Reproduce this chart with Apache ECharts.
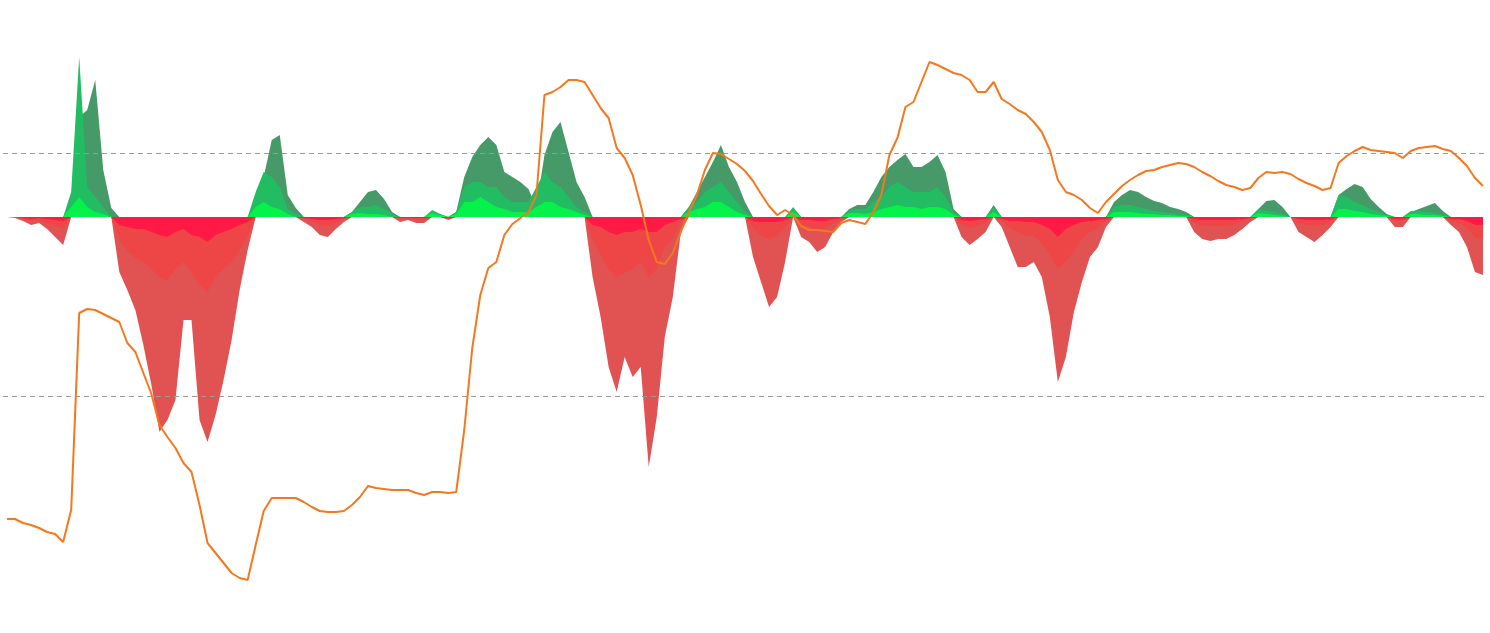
<!DOCTYPE html>
<html>
<head>
<meta charset="utf-8">
<script src="https://cdn.jsdelivr.net/npm/echarts@6/dist/echarts.min.js"></script>
<style>
html,body{margin:0;padding:0;background:#fff;}
#chart{width:1490px;height:633px;}
</style>
</head>
<body>
<div id="chart"></div>
<script>
// Oscillator, long window (outer layer)
const oscLong = [0,-1,-4,-8,-6,-12,-20,-28,15,100,107,137,47,9,-55,-73,-93,-128,-168,-215,-203,-183,-103,-103,-203,-225,-198,-163,-123,-73,-33,10,40,77,82,22,9,-5,-10,-18,-20,-12,-5,5,15,25,27,18,5,-5,-3,-6,-6,4,3,-3,5,40,60,72,80,72,45,40,35,28,10,62,85,95,65,35,20,-60,-100,-150,-175,-140,-160,-150,-250,-200,-120,-80,-15,10,25,40,55,72,50,35,15,-40,-65,-90,-80,-45,8,-20,-25,-35,-30,-15,-5,8,12,12,25,40,50,57,63,50,50,55,62,45,8,-20,-28,-22,-15,12,-10,-30,-50,-50,-45,-60,-100,-165,-140,-95,-65,-40,-30,-10,15,22,27,25,20,16,14,10,8,5,-15,-22,-24,-22,-22,-18,-12,-5,8,16,17,10,0,-15,-20,-25,-18,-10,22,28,33,30,18,10,3,-10,-10,5,8,11,14,6,-8,-15,-30,-55,-58];
// Oscillator, medium window (middle layer)
const oscMid = [0,0,-2,-4,-3,-6,-9,-11,25,160,30,20,10,0,-22,-34,-41,-45,-52,-60,-64,-52,-45,-56,-68,-75,-60,-52,-45,-34,-19,25,45,40,30,8,3,-2,-4,-8,-9,-6,-2,5,10,10,12,8,3,-2,-2,-3,-3,7,3,-2,5,30,35,35,30,30,20,15,15,15,30,45,35,30,20,10,5,-22,-38,-52,-60,-56,-52,-45,-60,-52,-30,-22,-4,10,15,25,30,35,25,15,5,-11,-19,-22,-19,-11,10,-8,-9,-14,-11,-6,-2,6,8,8,15,20,30,35,30,25,25,25,30,20,5,-8,-11,-9,-6,10,-4,-11,-15,-19,-19,-26,-38,-52,-45,-34,-22,-15,-11,-4,10,12,12,10,8,6,5,4,3,2,-6,-9,-9,-9,-9,-8,-4,-2,8,6,5,3,0,-6,-8,-9,-8,-4,22,20,15,12,8,5,2,-4,-4,6,6,5,4,2,-4,-6,-11,-21,-22];
// Oscillator, short window (inner layer)
const oscShort = [0,0,-1,-2,-1,-2,-3,-4,10,20,10,5,3,0,-8,-10,-12,-12,-15,-18,-20,-15,-12,-18,-20,-25,-18,-15,-12,-8,-5,10,15,10,8,3,0,-1,-2,-3,-3,-2,-1,3,4,3,3,2,0,-1,-1,-1,-1,4,2,-1,3,15,15,20,15,10,8,5,5,5,10,15,15,10,8,5,2,-8,-10,-15,-18,-15,-15,-12,-15,-15,-8,-5,-2,5,8,10,15,15,10,5,2,-4,-5,-5,-5,-3,5,-3,-3,-4,-4,-2,-1,4,4,3,5,8,10,12,10,10,8,10,10,8,2,-3,-4,-3,-2,5,-2,-4,-4,-5,-5,-8,-12,-20,-12,-8,-5,-4,-3,-2,5,5,5,4,3,3,2,2,1,1,-2,-3,-3,-3,-3,-3,-2,-1,4,3,2,1,0,-2,-3,-3,-3,-2,8,8,6,5,3,2,1,-2,-2,3,3,2,2,1,-2,-2,-4,-8,-8];
// Price (right axis, index units)
const price = [114,114,110,108,105,101,99,91,123,320,324,323,319,315,311,290,281,260,239,208,196,185,170,161,128,90,80,70,60,55,53,88,122,135,135,135,135,131,126,122,121,121,122,128,136,147,145,144,143,143,143,140,138,141,141,140,141,203,285,338,365,371,398,409,415,421,438,538,541,546,553,553,551,538,525,515,485,475,458,428,393,371,369,380,401,421,438,463,480,479,474,469,462,452,439,427,418,423,418,407,403,403,402,401,410,413,411,409,421,438,478,495,526,531,551,571,568,564,560,558,553,541,541,551,534,529,523,519,511,501,483,453,441,438,433,425,420,431,439,447,453,458,462,463,466,468,470,469,466,461,457,452,448,446,443,445,455,461,460,461,459,454,450,447,443,445,470,477,482,486,483,482,481,480,475,482,485,486,487,484,482,475,467,455,447];
// Reference levels on the price axis
const refLevels = [480, 237];

const periods = price.map((_, i) => 'P' + (i + 1));
const pos = a => a.map(v => (v > 0 ? v : 0));
const neg = a => a.map(v => (v < 0 ? v : 0));

function area(name, data, color) {
  return {
    name, type: 'line', data, yAxisIndex: 0,
    showSymbol: false, symbol: 'none', smooth: false,
    lineStyle: { width: 0 },
    areaStyle: { color: color, opacity: 1 },
    itemStyle: { color: color },
    silent: true
  };
}

const chart = echarts.init(document.getElementById('chart'));
chart.setOption({
  animation: false,
  backgroundColor: '#ffffff',
  grid: { left: 3, right: 3, top: 0, bottom: 0 },
  xAxis: { type: 'category', data: periods, boundaryGap: true, show: false },
  yAxis: [
    { type: 'value', min: -416, max: 217, show: false },
    { type: 'value', min: 0, max: 633, show: false }
  ],
  series: [
    area('long+', pos(oscLong), '#459a68'),
    area('long-', neg(oscLong), '#e15353'),
    area('mid+', pos(oscMid), '#22bd62'),
    area('mid-', neg(oscMid), '#ee4646'),
    area('short+', pos(oscShort), '#05f24a'),
    area('short-', neg(oscShort), '#ff1a45'),
    {
      name: 'Price', type: 'line', data: price, yAxisIndex: 1,
      showSymbol: false, symbol: 'none',
      lineStyle: { color: '#f5781f', width: 2 },
      itemStyle: { color: '#f5781f' },
      z: 5,
      markLine: {
        silent: true, symbol: ['none', 'none'],
        label: { show: false },
        lineStyle: { color: '#9a9a9a', width: 1, type: [5, 4] },
        data: refLevels.map(v => ({ yAxis: v }))
      }
    }
  ]
});
</script>
</body>
</html>
